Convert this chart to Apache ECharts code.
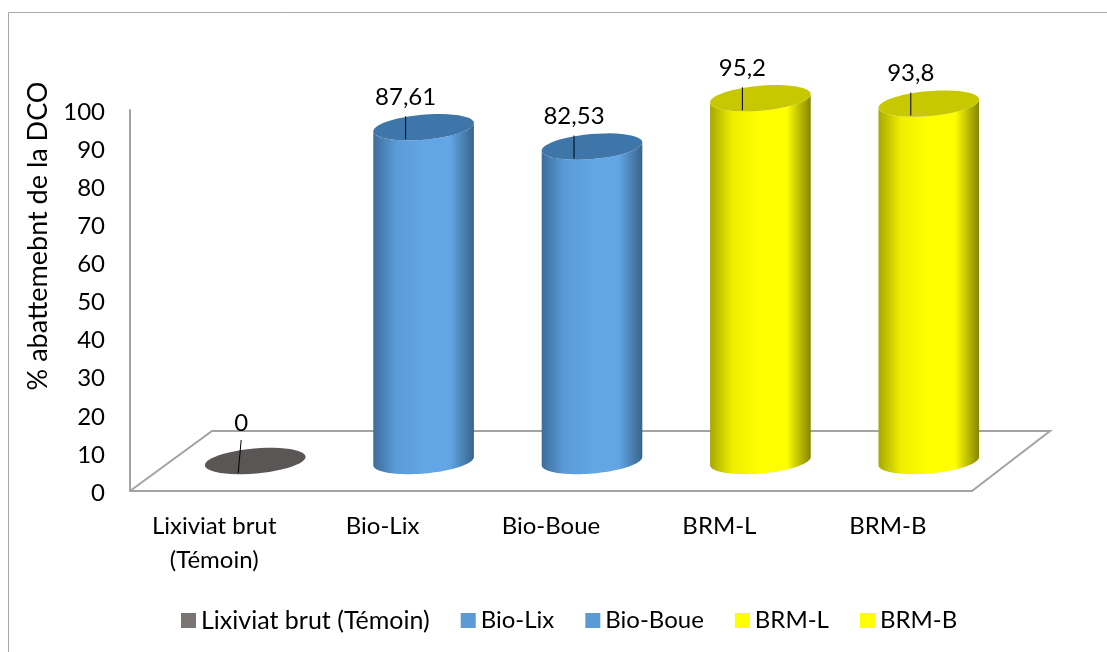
<!DOCTYPE html>
<html><head><meta charset="utf-8">
<style>html,body{margin:0;padding:0;background:#fff}#c{width:1107px;height:652px}</style>
<script src="https://cdn.jsdelivr.net/npm/echarts@6/dist/echarts.min.js"></script>
</head><body><div id="c"></div>
<script>
const categories = ['Lixiviat brut\n(Témoin)', 'Bio-Lix', 'Bio-Boue', 'BRM-L', 'BRM-B'];
const seriesNames = ['Lixiviat brut (Témoin)', 'Bio-Lix', 'Bio-Boue', 'BRM-L', 'BRM-B'];
const values = [0, 87.61, 82.53, 95.2, 93.8];
const legendColors = ['#7a7573', '#5b9bd5', '#5b9bd5', '#ffff00', '#ffff00'];
const legendFontSizes = [25, 24, 24, 24, 24];
const topColors = ['#5a5655', '#3f76a9', '#3f76a9', '#c8c800', '#c8c800'];
const edgeLeft = ['#5a5655', '#3c6d9c', '#3c6d9c', '#a8a800', '#a8a800'];
const shoulder = ['#5a5655', '#5a9ad6', '#5a9ad6', '#eeee00', '#eeee00'];
const edgeRight = ['#5a5655', '#38648c', '#38648c', '#858500', '#858500'];
const mid = ['#5a5655', '#62a6e6', '#62a6e6', '#ffff00', '#ffff00'];
const FONT = 'Lato';
const FS = 24;
const RX = 50.5, RY = 12.5, TILT = -5 * Math.PI / 180;
const DX = 41, DY = -30;

function ellipsePts(cx, cy, from, to) {
  const pts = [];
  for (let i = 0; i <= 48; i++) {
    const t = from + (to - from) * i / 48;
    const x = RX * Math.cos(t), y = RY * Math.sin(t);
    pts.push([cx + x * Math.cos(TILT) - y * Math.sin(TILT), cy + x * Math.sin(TILT) + y * Math.cos(TILT)]);
  }
  return pts;
}
function cylinder(idx) {
  return function (params, api) {
    const c = api.coord([api.value(0), 0]);
    const t = api.coord([api.value(0), api.value(1)]);
    const cx = c[0] + DX, by = c[1] + DY, ty = t[1] + DY;
    const v = api.value(1);
    const children = [];
    if (v > 0) {
      const bottom = ellipsePts(cx, by, 0, Math.PI);
      const top = ellipsePts(cx, ty, Math.PI, 0);
      children.push({
        type: 'polygon', shape: { points: bottom.concat(top) },
        style: { fill: new echarts.graphic.LinearGradient(0, 0, 1, 0, [
          { offset: 0, color: edgeLeft[idx] },
          { offset: 0.22, color: shoulder[idx] },
          { offset: 0.5, color: mid[idx] },
          { offset: 0.76, color: mid[idx] },
          { offset: 1, color: edgeRight[idx] }
        ]) }
      });
    }
    children.push({ type: 'polygon', shape: { points: ellipsePts(cx, ty, 0, Math.PI * 2) }, style: { fill: topColors[idx] } });
    const zero = v === 0;
    const lx = cx + (zero ? -14 : -18);
    children.push({
      type: 'line',
      shape: zero ? { x1: lx, y1: ty - 21, x2: lx - 3, y2: ty + 12 } : { x1: lx, y1: ty - 11, x2: lx, y2: ty + 12 },
      style: { stroke: '#000', lineWidth: 1 }
    });
    children.push({
      type: 'text',
      style: { text: String(v).replace('.', ','), x: lx, y: ty + (zero ? -38 : -30), align: 'center', verticalAlign: 'middle',
        font: FS + 'px ' + FONT, fill: '#000' }
    });
    return { type: 'group', children };
  };
}
function floor(params, api) {
  const a = api.coord([0, 0]);
  const cs = params.coordSys;
  const l = cs.x, r = cs.x + cs.width, y = a[1];
  return { type: 'polyline', shape: { points: [[l, y], [l + 82, y - 60], [r + 78, y - 60], [r, y]] },
    style: { fill: 'none', stroke: '#a3a3a3', lineWidth: 2 } };
}
const series = [{ type: 'custom', name: 'floor', coordinateSystem: 'cartesian2d', renderItem: floor, data: [[0, 0]], z: 1, silent: true }];
seriesNames.forEach((n, i) => series.push({
  type: 'custom', name: n, coordinateSystem: 'cartesian2d', renderItem: cylinder(i),
  encode: { x: 0, y: 1 }, data: [[i, values[i]]], itemStyle: { color: legendColors[i] }, z: 2 + i
}));
const chart = echarts.init(document.getElementById('c'), null, { renderer: 'canvas' });
chart.setOption({
  animation: false,
  backgroundColor: '#fff',
  grid: { left: 130, right: 135, top: 110, bottom: 161 },
  xAxis: { type: 'category', data: categories,
    axisLine: { lineStyle: { color: '#a3a3a3', width: 2 } }, axisTick: { show: false },
    axisLabel: { color: '#000', fontFamily: FONT, fontSize: FS, lineHeight: 34, margin: 18, interval: 0 } },
  yAxis: { type: 'value', min: 0, max: 100, interval: 10,
    axisLine: { show: true, lineStyle: { color: '#a3a3a3', width: 2 } }, axisTick: { show: false }, splitLine: { show: false },
    axisLabel: { margin: 25, formatter: '{t|{value}}',
      rich: { t: { color: '#000', fontFamily: FONT, fontSize: FS, padding: [4, 0, 0, 0] } } } },
  legend: { left: 176, top: 603, itemWidth: 15, itemHeight: 15, itemGap: 31, icon: 'rect',
    data: seriesNames.map((n, i) => ({ name: n, textStyle: { color: '#000', fontFamily: FONT, fontSize: legendFontSizes[i] } })),
    textStyle: { color: '#000', fontFamily: FONT, fontSize: FS } },
  graphic: [
    { type: 'polyline', silent: true, shape: { points: [[8.5, 700], [8.5, 12.5], [1200, 12.5]] }, style: { fill: 'none', stroke: '#a8a8a8', lineWidth: 1 } },
    { type: 'text', silent: true, x: 38, y: 236, rotation: Math.PI / 2,
      style: { text: '% abattemebnt de la DCO', align: 'center', verticalAlign: 'middle', font: '27px ' + FONT, fill: '#000' } }
  ],
  series
});
</script></body></html>
